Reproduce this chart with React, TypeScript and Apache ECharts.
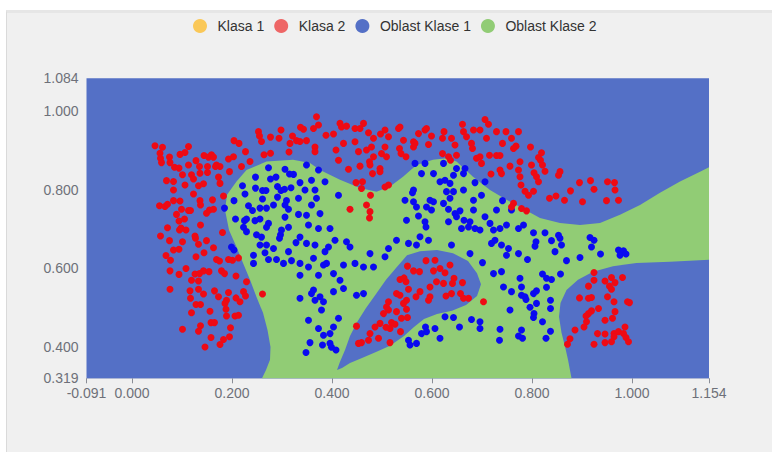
import React, { useEffect, useRef } from "react";
import * as echarts from "echarts";

// Axis extents
const X_MIN = -0.091;
const X_MAX = 1.154;
const Y_MIN = 0.319;
const Y_MAX = 1.084;

const LEGEND_NAMES = ["Klasa 1", "Klasa 2", "Oblast Klase 1", "Oblast Klase 2"];
const LEGEND_COLORS = ["#fac858", "#ee6666", "#5470c6", "#91cc75"];

// Class 1 samples (blue)
const KLASA_1: number[][] = [
  [0.204,0.772],[0.221,0.810],[0.226,0.789],[0.247,0.832],[0.247,0.804],[0.261,0.798],[0.268,0.798],[0.261,0.776],
  [0.273,0.856],[0.277,0.827],[0.288,0.832],[0.291,0.808],[0.298,0.798],[0.305,0.801],[0.306,0.852],[0.315,0.840],
  [0.323,0.839],[0.318,0.805],[0.336,0.818],[0.333,0.778],[0.291,0.781],[0.309,0.772],[0.313,0.750],[0.306,0.761],
  [0.283,0.761],[0.269,0.753],[0.256,0.753],[0.241,0.747],[0.233,0.759],[0.185,0.753],[0.207,0.725],[0.225,0.721],
  [0.229,0.725],[0.246,0.721],[0.256,0.725],[0.273,0.714],[0.269,0.704],[0.223,0.704],[0.229,0.693],[0.249,0.685],
  [0.259,0.679],[0.297,0.685],[0.295,0.676],[0.299,0.697],[0.313,0.704],[0.306,0.730],[0.333,0.737],[0.336,0.679],
  [0.199,0.654],[0.204,0.646],[0.243,0.633],[0.243,0.612],[0.266,0.639],[0.283,0.650],[0.273,0.622],[0.289,0.622],
  [0.303,0.612],[0.313,0.642],[0.319,0.619],[0.328,0.665],[0.336,0.612],[0.256,0.659],[0.269,0.659],[0.336,0.582],
  [0.336,0.523],
  [0.349,0.863],[0.359,0.824],[0.373,0.850],[0.386,0.820],[0.346,0.799],[0.366,0.799],[0.369,0.778],[0.359,0.761],
  [0.413,0.786],[0.353,0.710],[0.373,0.701],[0.396,0.701],[0.349,0.735],[0.376,0.739],[0.566,0.867],[0.586,0.867],
  [0.579,0.841],[0.603,0.841],[0.623,0.867],[0.643,0.837],[0.649,0.854],[0.666,0.854],[0.663,0.841],[0.636,0.816],
  [0.626,0.824],[0.616,0.820],[0.686,0.818],[0.706,0.820],[0.563,0.799],[0.561,0.792],[0.546,0.773],[0.563,0.769],
  [0.569,0.756],[0.596,0.773],[0.603,0.769],[0.599,0.748],[0.589,0.756],[0.573,0.733],[0.586,0.718],[0.588,0.705],
  [0.629,0.795],[0.643,0.795],[0.663,0.799],[0.636,0.778],[0.623,0.765],[0.633,0.750],[0.646,0.739],[0.649,0.731],
  [0.656,0.746],[0.664,0.722],[0.673,0.705],[0.683,0.773],[0.683,0.748],[0.699,0.786],[0.706,0.731],[0.716,0.714],
  [0.729,0.748],[0.741,0.772],[0.736,0.701],[0.723,0.697],[0.749,0.710],[0.759,0.748],[0.773,0.701],[0.783,0.710],
  [0.686,0.701],[0.696,0.697],[0.676,0.718],[0.549,0.722],[0.659,0.701],[0.633,0.718],
  [0.803,0.690],[0.826,0.690],
  [0.349,0.663],[0.366,0.659],[0.386,0.642],[0.393,0.654],[0.406,0.671],[0.429,0.667],[0.436,0.654],[0.363,0.625],
  [0.383,0.608],[0.389,0.612],[0.353,0.603],[0.373,0.582],[0.403,0.586],[0.423,0.608],[0.446,0.612],[0.463,0.603],
  [0.476,0.637],[0.483,0.603],[0.513,0.650],[0.506,0.629],[0.529,0.671],[0.553,0.663],[0.569,0.659],[0.576,0.680],
  [0.593,0.671],[0.639,0.659],[0.676,0.637],[0.701,0.614],[0.726,0.671],[0.739,0.659],[0.753,0.650],[0.749,0.633],
  [0.773,0.637],[0.719,0.663],[0.363,0.544],[0.359,0.535],[0.366,0.518],[0.376,0.527],[0.383,0.514],[0.403,0.540],
  [0.416,0.569],[0.423,0.548],[0.379,0.493],[0.353,0.467],[0.373,0.446],[0.413,0.472],[0.403,0.450],[0.383,0.429],
  [0.396,0.433],[0.449,0.531],[0.463,0.535],[0.626,0.476],[0.643,0.474],[0.655,0.450],[0.679,0.469],[0.696,0.463],
  [0.696,0.446],[0.587,0.450],[0.589,0.438],[0.606,0.446],[0.616,0.421],[0.553,0.416],[0.556,0.404],[0.579,0.433],
  [0.569,0.408],[0.736,0.444],[0.735,0.416],[0.773,0.427],[0.781,0.421],[0.779,0.442],[0.756,0.493],[0.779,0.531],
  [0.723,0.586],[0.739,0.591],[0.743,0.552],[0.759,0.540],[0.779,0.552],[0.776,0.574],
  [0.853,0.684],[0.856,0.676],[0.808,0.667],[0.806,0.656],[0.839,0.670],[0.859,0.659],[0.846,0.642],[0.791,0.622],
  [0.869,0.619],[0.896,0.627],[0.916,0.678],[0.924,0.671],[0.919,0.654],[0.937,0.636],[0.973,0.646],[0.983,0.644],
  [0.976,0.633],[0.988,0.636],[0.821,0.585],[0.829,0.574],[0.839,0.571],[0.857,0.585],[0.829,0.551],[0.786,0.527],
  [0.803,0.535],[0.809,0.542],[0.788,0.520],[0.809,0.510],[0.837,0.518],[0.837,0.497],[0.796,0.500],[0.804,0.484],
  [0.803,0.474],[0.821,0.463],[0.837,0.439],[0.828,0.421],
  [0.348,0.385],[0.356,0.410],[0.381,0.404],[0.396,0.408],[0.399,0.398],[0.408,0.391],
];

// Class 2 samples (red)
const KLASA_2: number[][] = [
  [0.046,0.912],[0.061,0.908],[0.056,0.893],[0.057,0.880],[0.059,0.869],[0.075,0.883],[0.076,0.869],[0.096,0.890],
  [0.106,0.895],[0.113,0.910],[0.128,0.874],[0.144,0.887],[0.153,0.883],[0.159,0.889],[0.163,0.883],[0.169,0.863],
  [0.176,0.859],[0.193,0.878],[0.203,0.884],[0.204,0.925],[0.214,0.918],[0.227,0.897],[0.236,0.872],[0.219,0.859],
  [0.253,0.948],[0.255,0.937],[0.259,0.923],[0.277,0.934],[0.294,0.931],[0.298,0.952],[0.316,0.918],[0.321,0.937],
  [0.329,0.925],[0.336,0.923],[0.337,0.959],[0.343,0.954],[0.314,0.896],[0.277,0.893],[0.264,0.889],[0.085,0.857],
  [0.094,0.855],[0.113,0.863],[0.135,0.859],[0.136,0.842],[0.151,0.859],[0.151,0.844],[0.167,0.859],[0.119,0.838],
  [0.123,0.827],[0.101,0.838],[0.069,0.823],[0.083,0.821],[0.106,0.812],[0.133,0.810],[0.143,0.815],[0.173,0.832],
  [0.176,0.816],[0.195,0.846],[0.083,0.799],[0.123,0.789],[0.136,0.772],[0.137,0.761],[0.161,0.774],[0.155,0.748],
  [0.163,0.750],[0.149,0.740],[0.183,0.784],[0.055,0.759],[0.066,0.757],[0.071,0.763],[0.083,0.772],[0.096,0.771],
  [0.089,0.737],[0.099,0.750],[0.113,0.747],[0.117,0.747],[0.094,0.720],[0.105,0.725],[0.071,0.703],[0.095,0.697],
  [0.098,0.702],[0.108,0.697],[0.137,0.710],[0.181,0.691],[0.057,0.682],[0.126,0.682],[0.127,0.676],
  [0.075,0.670],[0.101,0.667],[0.133,0.661],[0.149,0.670],[0.083,0.646],[0.094,0.648],[0.068,0.632],[0.077,0.620],
  [0.128,0.629],[0.144,0.639],[0.163,0.652],[0.169,0.622],[0.175,0.618],[0.193,0.622],[0.201,0.620],[0.213,0.626],
  [0.076,0.593],[0.094,0.584],[0.108,0.599],[0.126,0.585],[0.135,0.586],[0.143,0.593],[0.154,0.591],[0.179,0.593],
  [0.185,0.586],[0.208,0.580],[0.119,0.569],[0.133,0.567],[0.076,0.546],[0.116,0.542],[0.133,0.546],[0.143,0.534],
  [0.165,0.542],[0.173,0.527],[0.193,0.538],[0.189,0.518],[0.186,0.510],[0.208,0.524],[0.216,0.514],[0.223,0.540],
  [0.227,0.529],[0.229,0.565],[0.117,0.523],[0.128,0.507],[0.137,0.507],[0.188,0.495],[0.156,0.490],[0.119,0.486],
  [0.189,0.478],[0.206,0.478],[0.213,0.480],[0.158,0.461],[0.165,0.461],[0.137,0.453],[0.101,0.444],[0.133,0.439],
  [0.197,0.448],[0.158,0.423],[0.195,0.425],[0.183,0.418],[0.176,0.405],[0.146,0.399],[0.261,0.534],
  [0.369,0.986],[0.373,0.965],[0.363,0.956],[0.388,0.939],[0.403,0.942],[0.416,0.969],[0.419,0.960],[0.429,0.962],
  [0.446,0.956],[0.456,0.956],[0.463,0.969],[0.473,0.945],[0.483,0.931],[0.497,0.942],[0.506,0.952],[0.513,0.935],
  [0.533,0.956],[0.536,0.960],[0.543,0.926],[0.563,0.922],[0.573,0.943],[0.586,0.952],[0.589,0.956],[0.599,0.937],
  [0.593,0.915],[0.621,0.931],[0.624,0.948],[0.639,0.931],[0.646,0.914],[0.661,0.967],[0.663,0.948],[0.669,0.935],
  [0.683,0.952],[0.679,0.918],[0.696,0.952],[0.706,0.979],[0.713,0.967],[0.709,0.931],[0.729,0.948],[0.741,0.918],
  [0.748,0.948],[0.759,0.931],[0.768,0.911],[0.773,0.948],[0.366,0.909],[0.366,0.897],[0.349,0.925],[0.408,0.901],
  [0.413,0.875],[0.423,0.918],[0.446,0.922],[0.453,0.897],[0.469,0.901],[0.475,0.871],[0.479,0.909],[0.483,0.884],
  [0.499,0.892],[0.506,0.909],[0.509,0.884],[0.535,0.905],[0.548,0.884],[0.538,0.892],[0.563,0.909],[0.566,0.918],
  [0.621,0.892],[0.649,0.888],[0.633,0.884],[0.681,0.905],[0.689,0.880],[0.696,0.884],[0.715,0.888],[0.729,0.887],
  [0.736,0.887],[0.763,0.905],[0.776,0.871],[0.433,0.852],[0.456,0.860],[0.476,0.863],[0.481,0.841],[0.496,0.854],
  [0.513,0.812],[0.506,0.807],[0.496,0.846],[0.461,0.820],[0.448,0.818],[0.459,0.803],[0.477,0.786],[0.469,0.761],
  [0.476,0.744],[0.475,0.728],[0.436,0.750],[0.699,0.867],[0.718,0.840],[0.736,0.850],[0.739,0.841],[0.756,0.860],
  [0.773,0.850],[0.776,0.833],[0.778,0.812],[0.763,0.765],[0.759,0.756],[0.779,0.752],[0.637,0.875],
  [0.797,0.909],[0.819,0.894],[0.813,0.882],[0.817,0.875],[0.821,0.863],[0.799,0.863],[0.826,0.847],[0.804,0.843],
  [0.809,0.833],[0.813,0.820],[0.786,0.796],[0.803,0.796],[0.793,0.786],[0.856,0.846],[0.853,0.837],[0.895,0.818],
  [0.917,0.823],[0.877,0.797],[0.924,0.801],[0.848,0.784],[0.835,0.778],[0.865,0.773],[0.901,0.769],[0.951,0.820],
  [0.965,0.818],[0.966,0.799],[0.949,0.772],[0.973,0.773],[0.789,0.746],
  [0.551,0.605],[0.563,0.593],[0.575,0.591],[0.588,0.619],[0.606,0.620],[0.603,0.593],[0.616,0.599],[0.626,0.588],
  [0.636,0.608],[0.644,0.574],[0.641,0.561],[0.661,0.563],[0.623,0.561],[0.609,0.565],[0.596,0.552],[0.536,0.571],
  [0.544,0.575],[0.548,0.565],[0.529,0.535],[0.536,0.531],[0.553,0.546],[0.576,0.540],[0.568,0.527],[0.593,0.518],
  [0.596,0.527],[0.628,0.529],[0.639,0.535],[0.657,0.535],[0.663,0.523],[0.673,0.523],[0.549,0.518],[0.543,0.510],
  [0.513,0.514],[0.509,0.501],[0.513,0.493],[0.529,0.489],[0.503,0.484],[0.549,0.495],[0.551,0.474],[0.539,0.472],
  [0.519,0.461],[0.526,0.457],[0.516,0.446],[0.496,0.459],[0.486,0.450],[0.449,0.452],[0.476,0.433],[0.508,0.449],
  [0.537,0.438],[0.473,0.416],[0.459,0.410],[0.453,0.408],[0.493,0.421],[0.703,0.514],[0.516,0.410],
  [0.924,0.589],[0.924,0.569],[0.913,0.554],[0.946,0.567],[0.959,0.576],[0.966,0.563],[0.955,0.554],[0.959,0.546],
  [0.981,0.576],[0.895,0.524],[0.913,0.523],[0.919,0.525],[0.951,0.527],[0.964,0.514],[0.991,0.514],[0.995,0.512],
  [0.933,0.497],[0.919,0.491],[0.913,0.484],[0.908,0.478],[0.966,0.489],[0.946,0.467],[0.961,0.472],[0.909,0.463],
  [0.904,0.450],[0.886,0.442],[0.931,0.433],[0.946,0.432],[0.964,0.433],[0.973,0.438],[0.986,0.450],[0.983,0.433],
  [0.964,0.425],[0.988,0.423],[0.993,0.412],[0.959,0.412],[0.946,0.410],[0.924,0.406],[0.876,0.420],[0.871,0.406],
];

// Decision region of class 2: outer boundary
const REGION_2_OUTLINE: number[][] = [
  [0.260,0.319],[0.268,0.340],[0.276,0.366],[0.277,0.399],[0.271,0.442],[0.262,0.486],[0.249,0.526],[0.236,0.570],
  [0.222,0.613],[0.209,0.654],[0.194,0.697],[0.186,0.748],[0.190,0.787],[0.209,0.821],[0.229,0.850],[0.269,0.872],
  [0.322,0.876],[0.356,0.868],[0.376,0.850],[0.416,0.825],[0.456,0.804],[0.489,0.795],[0.516,0.808],[0.542,0.833],
  [0.569,0.863],[0.602,0.876],[0.629,0.880],[0.649,0.872],[0.682,0.833],[0.716,0.799],[0.749,0.774],[0.776,0.756],
  [0.816,0.728],[0.856,0.715],[0.896,0.710],[0.936,0.715],[0.976,0.736],[1.016,0.761],[1.056,0.792],[1.096,0.821],
  [1.136,0.846],[1.154,0.857],[1.154,0.621],[1.076,0.616],[1.009,0.613],[0.962,0.605],[0.922,0.591],[0.892,0.570],
  [0.869,0.544],[0.857,0.511],[0.854,0.476],[0.859,0.435],[0.866,0.400],[0.872,0.366],[0.879,0.319],
];

// Decision region of class 1: enclosed island inside region 2
const REGION_1_ISLAND: number[][] = [
  [0.410,0.340],[0.416,0.361],[0.426,0.391],[0.436,0.427],[0.450,0.462],[0.468,0.498],[0.488,0.534],[0.508,0.570],
  [0.528,0.600],[0.550,0.633],[0.576,0.643],[0.610,0.646],[0.642,0.638],[0.672,0.618],[0.690,0.587],[0.698,0.559],
  [0.690,0.529],[0.668,0.506],[0.640,0.491],[0.610,0.483],[0.584,0.470],[0.564,0.450],[0.544,0.427],[0.516,0.402],
  [0.488,0.386],[0.460,0.371],[0.436,0.358],[0.420,0.345],
];

// Decision region of class 1: full plotting extent (background)
const REGION_1_EXTENT: number[][] = [
  [X_MIN, Y_MIN],
  [X_MAX, Y_MAX],
];

const FONT = "'Liberation Sans', Arial, sans-serif";

function polygonRenderer(vertices: number[][], color: string) {
  return (params: any, api: any) => {
    if (params.dataIndex !== 0) return null;
    const points = vertices.map((v) => api.coord(v));
    return {
      type: "polygon",
      shape: { points },
      style: { fill: color },
    };
  };
}

function extentRenderer(color: string) {
  return (params: any, api: any) => {
    if (params.dataIndex !== 0) return null;
    const a = api.coord([REGION_1_EXTENT[0][0], REGION_1_EXTENT[1][1]]);
    const b = api.coord([REGION_1_EXTENT[1][0], REGION_1_EXTENT[0][1]]);
    return {
      type: "rect",
      shape: { x: a[0], y: a[1], width: b[0] - a[0], height: b[1] - a[1] },
      style: { fill: color },
    };
  };
}

const fmt = (v: number) => v.toFixed(3);

export default function App() {
  const ref = useRef<HTMLDivElement>(null);

  useEffect(() => {
    if (!ref.current) return;
    const chart = echarts.init(ref.current, null, { renderer: "svg" });
    chart.setOption({
      animation: false,
      backgroundColor: "#f0f0f0",
      legend: {
        top: 1,
        left: 181,
        icon: "circle",
        itemWidth: 25,
        itemHeight: 14,
        itemGap: 10,
        textStyle: { fontSize: 14, color: "#333", fontFamily: FONT },
        data: LEGEND_NAMES.map((name, i) => ({
          name,
          itemStyle: { color: LEGEND_COLORS[i] },
        })),
      },
      grid: { left: 79.5, right: 63, top: 65.3, bottom: 73.7 },
      xAxis: {
        type: "value",
        min: X_MIN,
        max: X_MAX,
        splitLine: { show: false },
        axisLine: { show: true, onZero: false, lineStyle: { color: "#c8ccd8" } },
        axisTick: { show: true, lineStyle: { color: "#8a8d96" } },
        axisLabel: { formatter: fmt, fontSize: 14, color: "#6e7079", fontFamily: FONT, margin: 8 },
      },
      yAxis: {
        type: "value",
        min: Y_MIN,
        max: Y_MAX,
        splitLine: { show: false },
        axisLine: { show: false },
        axisTick: { show: false },
        axisLabel: { formatter: fmt, fontSize: 14, color: "#6e7079", fontFamily: FONT, margin: 8 },
      },
      series: [
        {
          name: "Oblast Klase 1",
          type: "custom",
          silent: true,
          itemStyle: { color: LEGEND_COLORS[2] },
          renderItem: extentRenderer(LEGEND_COLORS[2]),
          data: REGION_1_EXTENT,
          z: 1,
        },
        {
          name: "Oblast Klase 2",
          type: "custom",
          silent: true,
          itemStyle: { color: LEGEND_COLORS[3] },
          renderItem: polygonRenderer(REGION_2_OUTLINE, LEGEND_COLORS[3]),
          data: REGION_2_OUTLINE,
          z: 2,
        },
        {
          name: "Oblast Klase 1",
          type: "custom",
          silent: true,
          itemStyle: { color: LEGEND_COLORS[2] },
          renderItem: polygonRenderer(REGION_1_ISLAND, LEGEND_COLORS[2]),
          data: REGION_1_ISLAND,
          z: 3,
        },
        {
          name: "Klasa 1",
          type: "scatter",
          symbolSize: 7,
          itemStyle: { color: "#0a0af0", opacity: 1 },
          data: KLASA_1,
          z: 4,
        },
        {
          name: "Klasa 2",
          type: "scatter",
          symbolSize: 7,
          itemStyle: { color: "#ee0a14", opacity: 1 },
          data: KLASA_2,
          z: 4,
        },
      ],
    });
    return () => chart.dispose();
  }, []);

  return (
    <div
      style={{
        position: "fixed",
        left: 6,
        top: 10,
        width: 766,
        height: 442,
        boxSizing: "border-box",
        borderLeft: "1px solid #dadada",
        borderTop: "3px solid #e6e6e6",
        background: "#f0f0f0",
      }}
    >
      <div ref={ref} style={{ width: 765, height: 439 }} />
    </div>
  );
}
